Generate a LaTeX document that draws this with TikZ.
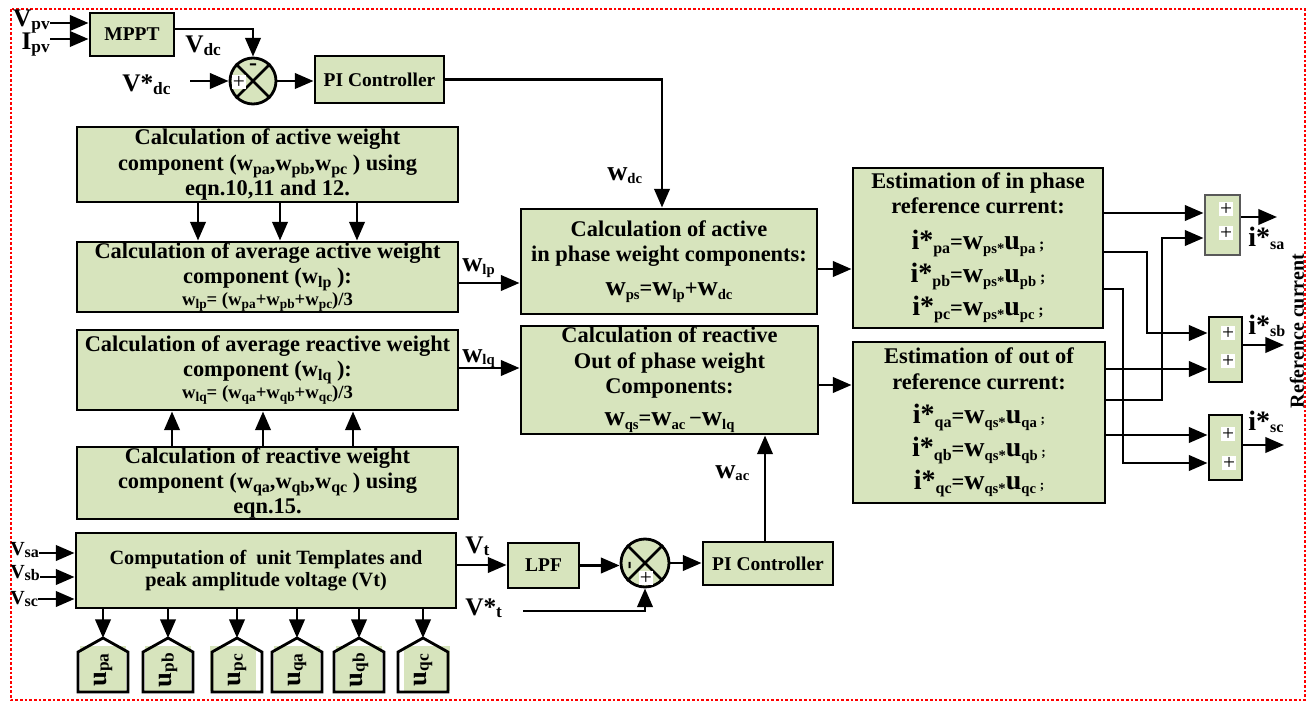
\documentclass[tikz,border=0pt]{standalone}
\usepackage{fontspec}
\setmainfont{Liberation Serif}
\usetikzlibrary{arrows.meta}
\definecolor{boxgreen}{RGB}{215,228,189}
\newcommand\fs[2]{\fontsize{#1}{#2}\selectfont}
\newcommand\sbs[2][11]{\raisebox{-0.4ex}{\fs{#1}{#1}#2}}
\newcommand\ws[2][12]{w\sbs[#1]{#2}}
\newcommand\Wb[1]{{\fs{21}{21}w}\sbs{#1}}
\newcommand\Ub[1]{{\fs{21}{21}u}\sbs{#1}}
\newcommand\Ib[1]{{\fs{21}{21}i*}\sbs[12]{#1}}
\begin{document}
\begin{tikzpicture}[x=0.75pt,y=-0.75pt,
 blk/.style={draw=black,line width=2.2pt,fill=boxgreen,inner sep=0pt,align=center,font=\fs{16.8}{19}\bfseries},
 sz/.style 2 args={minimum width=#1*0.75pt,minimum height=#2*0.75pt},
 arr/.style={line width=2.1pt,-{Triangle[length=14pt,width=11.5pt]}},
 ln/.style={line width=2.1pt},
 lbl/.style={font=\bfseries,inner sep=0pt},
 sgn/.style={fill=white,inner sep=0.8pt,font=\fs{16}{16}},
 sumc/.style={circle,draw=black,line width=2.1pt,fill=boxgreen,inner sep=0pt,minimum size=#1*0.75pt},
 sumb/.style={draw=black,line width=2.2pt,fill=boxgreen,inner sep=0pt},
 small/.style={font=\fs{14.6}{16}\bfseries}
]
\useasboundingbox (0,0) rectangle (1309,702);
\draw[red,line width=1.2pt,dash pattern=on 2pt off 1.5pt] (11,9) rectangle (1305,700);

% ---------- top dc loop ----------
\node[blk,sz={84}{43},small] (mppt) at (132,34.5) {MPPT};
\node[blk,sz={129}{47},small] (pi1) at (379.5,79.5) {PI Controller};
\node[sumc=46] (s1) at (253,81) {};
\draw[ln] (s1.north west) -- (s1.south east) (s1.north east) -- (s1.south west);
\node[font=\fs{18}{18}\bfseries,inner sep=0] (s1m) at (253,67) {-};
\node[sgn] (s1p) at (239,82) {+};

\node[lbl,anchor=base east] (vpv) at (50,27) {{\fs{19}{19}V}\sbs[13]{pv}};
\node[lbl,anchor=base east] (ipv) at (50,50) {{\fs{19}{19}I}\sbs[13]{pv}};
\draw[arr] (vpv.east |- 0,23) -- (mppt.west |- 0,23);
\draw[arr] (ipv.east |- 0,39) -- (mppt.west |- 0,39);
\draw[arr] (mppt.east |- 0,29) -| (s1.north);
\node[lbl,anchor=base west] (vdc) at (185,53) {{\fs{19}{19}V}\sbs[13]{dc}};
\node[lbl,anchor=base west] (vdcr) at (122,92) {{\fs{19}{19}V*}\sbs[13]{dc}};
\coordinate (vdcin) at (190,81);
\draw[arr] (vdcin) -- (s1.west);
\draw[arr] (s1.east) -- (pi1.west |- s1.east);

% ---------- left blocks ----------
\node[blk,sz={381}{75}] (A) at (267.5,164.5) {Calculation of active weight\\ component (\ws{pa},\ws{pb},\ws{pc} ) using\\ eqn.10,11 and 12.};
\node[blk,sz={381}{70}] (B) at (267.5,277) {Calculation of average active weight\\ component (\ws{lp} ):\\[-3pt] {\fs{14}{16}\ws[10]{lp}= (\ws[10]{pa}+\ws[10]{pb}+\ws[10]{pc})/3}};
\node[blk,sz={381}{80}] (C) at (267.5,370) {Calculation of average reactive weight\\ component (\ws{lq} ):\\[-3pt] {\fs{14}{16}\ws[10]{lq}= (\ws[10]{qa}+\ws[10]{qb}+\ws[10]{qc})/3}};
\node[blk,sz={381}{72}] (D) at (267.5,483) {Calculation of reactive weight\\ component (\ws{qa},\ws{qb},\ws{qc} ) using\\ eqn.15.};
\foreach \x in {198,280,357} \draw[arr] (\x,0 |- A.south) -- (\x,0 |- B.north);
\foreach \x in {172,263,353} \draw[arr] (\x,0 |- D.north) -- (\x,0 |- C.south);

% ---------- middle blocks ----------
\node[blk,sz={296}{105}] (E) at (669,261.5) {Calculation of active\\ in phase weight components:\\[6pt] \Wb{ps}=\Wb{lp}+\Wb{dc}};
\node[blk,sz={297}{108}] (F) at (669.5,380) {Calculation of reactive\\ Out of phase weight\\ Components:\\[5pt] \Wb{qs}=\Wb{ac}\,\textminus\Wb{lq}};
\draw[arr] (pi1.east) -| (662,0 |- E.north);
\node[lbl,anchor=base west] (wdc) at (607,181) {\Wb{dc}};
\draw[arr] (B.east |- 0,283) -- (E.west |- 0,283);
\node[lbl,anchor=base west] (wlp) at (462,272) {\Wb{lp}};
\draw[arr] (C.east |- 0,368) -- (F.west |- 0,368);
\node[lbl,anchor=base west] (wlq) at (462,362) {\Wb{lq}};

% ---------- estimation blocks ----------
\node[blk,sz={250}{160}] (G) at (978,248) {Estimation of in phase\\ reference current:\\[8pt] \Ib{pa}=\Wb{ps*}\Ub{pa}\,{\fs{12}{12};}\\[3.5pt] \Ib{pb}=\Wb{ps*}\Ub{pb}\,{\fs{12}{12};}\\[3.5pt] \Ib{pc}=\Wb{ps*}\Ub{pc}\,{\fs{12}{12};}};
\node[blk,sz={252}{161}] (H) at (979,422.5) {Estimation of out of\\ reference current:\\[7pt] \Ib{qa}=\Wb{qs*}\Ub{qa}\,{\fs{10}{10};}\\[3.5pt] \Ib{qb}=\Wb{qs*}\Ub{qb}\,{\fs{10}{10};}\\[3.5pt] \Ib{qc}=\Wb{qs*}\Ub{qc}\,{\fs{10}{10};}};
\draw[arr] (E.east |- 0,269) -- (G.west |- 0,269);
\draw[arr] (F.east |- 0,385) -- (H.west |- 0,385);

% ---------- summers ----------
\node[sumb,draw=black!65,sz={35}{60}] (sa) at (1222.5,225) {};
\node[sumb,sz={33}{65}] (sb) at (1225.5,349.5) {};
\node[sumb,sz={33}{65}] (sc) at (1225.5,447.5) {};
\node[sgn] (sa1) at (1226,209) {+};
\node[sgn] (sa2) at (1226,233) {+};
\node[sgn] (sb1) at (1228,333) {+};
\node[sgn] (sb2) at (1228,361) {+};
\node[sgn] (sc1) at (1228,434) {+};
\node[sgn] (sc2) at (1229,463) {+};

\draw[arr] (G.east |- 0,213) -- (sa.west |- 0,213);
\draw[arr] (G.east |- 0,252) -| (1147,333) -- (sb.west |- 0,333);
\draw[arr] (G.east |- 0,289) -| (1123,463) -- (sc.west |- 0,463);
\draw[arr] (H.east |- 0,369) -- (sb.west |- 0,369);
\draw[arr] (H.east |- 0,400) -| (1162,238) -- (sa.west |- 0,238);
\draw[arr] (H.east |- 0,435) -- (sc.west |- 0,435);

\coordinate (oa) at (1277,217);
\coordinate (ob) at (1284,345);
\coordinate (oc) at (1284,445);
\draw[arr] (sa.east |- oa) -- (oa);
\draw[arr] (sb.east |- ob) -- (ob);
\draw[arr] (sc.east |- oc) -- (oc);
\node[lbl,anchor=base west] (isa) at (1248,247) {\Ib{sa}};
\node[lbl,anchor=base west] (isb) at (1248,334) {\Ib{sb}};
\node[lbl,anchor=base west] (isc) at (1248,430) {\Ib{sc}};
\node[rotate=90,font=\fs{15}{15}\bfseries,inner sep=0] (refc) at (1297,331) {Reference current};

% ---------- bottom ----------
\node[blk,sz={380}{75},font=\fs{15.2}{16.5}\bfseries] (I) at (266,570.5) {Computation of \ unit Templates and\\ peak amplitude voltage (Vt)};
\node[lbl,anchor=base west] (vsa) at (10,555) {{\fs{15}{15}V}\sbs[12]{sa}};
\node[lbl,anchor=base west] (vsb) at (10,578) {{\fs{15}{15}V}\sbs[12]{sb}};
\node[lbl,anchor=base west] (vsc) at (10,604) {{\fs{15}{15}V}\sbs[12]{sc}};
\draw[arr] (vsa.east |- 0,553) -- (I.west |- 0,553);
\draw[arr] (vsb.east |- 0,577) -- (I.west |- 0,577);
\draw[arr] (vsc.east |- 0,599) -- (I.west |- 0,599);

\node[blk,sz={71}{45},small] (lpf) at (543.5,565.5) {LPF};
\node[sumc=48] (s2) at (645,563) {};
\draw[ln] (s2.north west) -- (s2.south east) (s2.north east) -- (s2.south west);
\node[font=\fs{18}{18}\bfseries,rotate=90,inner sep=0] (s2m) at (632,565) {-};
\node[sgn] (s2p) at (646,578) {+};
\node[blk,sz={130}{43},small] (pi2) at (768,563.5) {PI Controller};

\draw[arr] (I.east |- 0,565) -- (lpf.west |- 0,565);
\node[lbl,anchor=base west] (vt) at (465,553) {{\fs{19}{19}V}\sbs[13]{t}};
\draw[arr] (lpf.east) -- (s2.west |- lpf.east);
\node[lbl,anchor=base west] (vtr) at (465,615) {{\fs{19}{19}V*}\sbs[13]{t}};
\coordinate (vtin) at (523,611);
\draw[arr] (vtin) -| (s2.south);
\draw[arr] (s2.east) -- (pi2.west |- s2.east);
\draw[arr] (pi2.north -| 765,0) -- (F.south -| 765,0);
\node[lbl,anchor=base west] (wac) at (715,478) {\Wb{ac}};

\foreach \cx/\sb/\dx [count=\k] in {103/pa/0,168/pb/0,237/pc/-4,297/qa/0,359/qb/0,423/qc/4} {
  \fill[boxgreen] (\cx+\dx-23,646) rectangle (\cx+\dx+23,691);
  \draw[line width=2.1pt] (\cx,638) -- (\cx+25,652) -- (\cx+25,692) -- (\cx-25,692) -- (\cx-25,652) -- cycle;
  \coordinate (ap\k) at (\cx,638);
  \node[rotate=90,font=\bfseries,inner sep=0] (u\k) at (\cx,670) {{\fs{20}{20}u}\sbs[13]{\sb}};
  \draw[arr] (I.south -| ap\k) -- (ap\k);
}
\end{tikzpicture}
\end{document}
